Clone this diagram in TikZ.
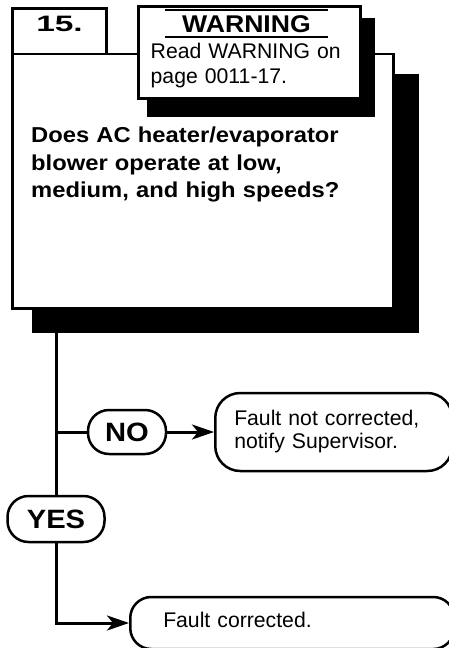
\documentclass[tikz,border=0pt]{standalone}
\usepackage{fontspec}
\setmainfont{Liberation Sans}[BoldFeatures={FakeStretch=1.1}]
\newfontfamily\numfont{Liberation Sans}[FakeStretch=1.5]
\usetikzlibrary{arrows.meta}
\begin{document}
\begin{tikzpicture}[x=1pt, y=-1pt,
    frame/.style={draw, line width=2.8pt, fill=white, inner sep=0pt},
    answer/.style={draw, line width=2.5pt, fill=white, rounded corners=21pt, inner sep=0pt,
      text height=19pt, text depth=0pt, font=\fontsize{26.5}{30}\selectfont\bfseries},
    result/.style={draw, line width=2.5pt, fill=white, align=left, anchor=west, inner ysep=0pt,
      font=\fontsize{21.2}{23}\selectfont},
    flow/.style={line width=3pt},
    arrow/.style={flow, -{Stealth[length=22pt,width=15pt,inset=6pt]}},
    rule/.style={line width=2pt}
  ]
    \useasboundingbox (0,0) rectangle (449,648);

    % Riquadro principale con ombra
    \fill (32,74) rectangle (419,333);
    \node[frame, minimum width=381pt, minimum height=254.5pt] (main) at (203,181.25) {};
    \node[anchor=north west, inner sep=0pt, text width=360pt, align=left,
      font=\fontsize{21.6}{27.3}\selectfont\bfseries] (question) at (31,127)
      {Does AC heater/evaporator\\ blower operate at low,\\ medium, and high speeds?};

    % Numero del passo
    \node[frame, minimum width=94pt, minimum height=45.5pt, text height=16pt, text depth=16pt,
      font=\numfont\fontsize{22.3}{26}\selectfont\bfseries] (step15) at (59.5,31.25) {15.};

    % Avvertenza con ombra
    \fill (147,18) rectangle (375,117);
    \node[frame, minimum width=222pt, minimum height=92pt] (warn) at (249.5,52.5) {};
    \node[minimum width=163pt, minimum height=26.5pt, inner sep=0pt, text height=17.3pt, text depth=0pt,
      font=\fontsize{24.2}{28}\selectfont\bfseries] (warntitle) at (246.5,23.75) {WARNING};
    \draw[rule] (warntitle.north west) -- (warntitle.north east);
    \draw[rule] (warntitle.south west) -- (warntitle.south east);
    \node[anchor=north west, inner sep=0pt, text width=205pt, align=left,
      font=\fontsize{21.2}{24.8}\selectfont] (warntext) at (150.5,42.8)
      {Read WARNING on\\ page 0011-17.};

    % Risposte
    \node[answer, minimum width=78pt, minimum height=44pt] (no) at (127,432) {NO};
    \node[answer, minimum width=97pt, minimum height=46pt] (yes) at (56,519) {YES};
    \node[result, rounded corners=25pt, text width=199pt, inner xsep=19pt, minimum height=78pt]
      (notfixed) at (214,432) {Fault not corrected,\\ notify Supervisor.};
    \node[result, rounded corners=21pt, text width=258pt, inner xsep=33pt, minimum height=52pt,
      text height=15.5pt, text depth=7pt] (fixed) at (129,623) {Fault corrected.};

    % Collegamenti
    \path (main.south -| yes.north) ++(0,22) coordinate (drop);
    \draw[flow] (drop) -- (yes);
    \draw[flow] (no -| yes) -- (no);
    \draw[arrow] (no) -- (notfixed);
    \draw[arrow] (yes) |- (fixed);
\end{tikzpicture}
\end{document}
